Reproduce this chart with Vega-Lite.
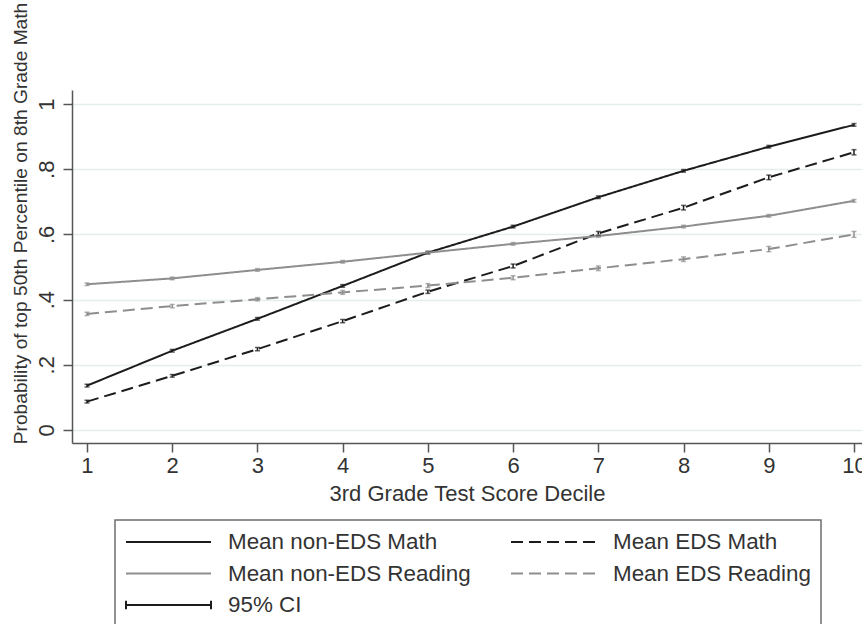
{
  "$schema": "https://vega.github.io/schema/vega-lite/v6.json",
  "width": 790,
  "height": 353,
  "autosize": {"type": "none"},
  "padding": {"left": 72, "top": 90, "right": 0, "bottom": 181},
  "background": "white",
  "config": {"view": {"stroke": null}, "font": "Liberation Sans"},
  "data": {"values": [
    {"d": 1, "s": "Mean non-EDS Math", "p": 0.136, "lo": 0.132, "hi": 0.140},
    {"d": 2, "s": "Mean non-EDS Math", "p": 0.243, "lo": 0.239, "hi": 0.247},
    {"d": 3, "s": "Mean non-EDS Math", "p": 0.341, "lo": 0.337, "hi": 0.345},
    {"d": 4, "s": "Mean non-EDS Math", "p": 0.442, "lo": 0.438, "hi": 0.446},
    {"d": 5, "s": "Mean non-EDS Math", "p": 0.544, "lo": 0.540, "hi": 0.548},
    {"d": 6, "s": "Mean non-EDS Math", "p": 0.624, "lo": 0.620, "hi": 0.628},
    {"d": 7, "s": "Mean non-EDS Math", "p": 0.714, "lo": 0.710, "hi": 0.718},
    {"d": 8, "s": "Mean non-EDS Math", "p": 0.795, "lo": 0.791, "hi": 0.799},
    {"d": 9, "s": "Mean non-EDS Math", "p": 0.869, "lo": 0.865, "hi": 0.873},
    {"d": 10, "s": "Mean non-EDS Math", "p": 0.936, "lo": 0.932, "hi": 0.940},
    {"d": 1, "s": "Mean EDS Math", "p": 0.087, "lo": 0.083, "hi": 0.091},
    {"d": 2, "s": "Mean EDS Math", "p": 0.166, "lo": 0.162, "hi": 0.170},
    {"d": 3, "s": "Mean EDS Math", "p": 0.248, "lo": 0.243, "hi": 0.253},
    {"d": 4, "s": "Mean EDS Math", "p": 0.334, "lo": 0.329, "hi": 0.339},
    {"d": 5, "s": "Mean EDS Math", "p": 0.424, "lo": 0.419, "hi": 0.429},
    {"d": 6, "s": "Mean EDS Math", "p": 0.503, "lo": 0.497, "hi": 0.509},
    {"d": 7, "s": "Mean EDS Math", "p": 0.603, "lo": 0.597, "hi": 0.609},
    {"d": 8, "s": "Mean EDS Math", "p": 0.682, "lo": 0.675, "hi": 0.689},
    {"d": 9, "s": "Mean EDS Math", "p": 0.775, "lo": 0.768, "hi": 0.782},
    {"d": 10, "s": "Mean EDS Math", "p": 0.852, "lo": 0.844, "hi": 0.860},
    {"d": 1, "s": "Mean non-EDS Reading", "p": 0.447, "lo": 0.443, "hi": 0.451},
    {"d": 2, "s": "Mean non-EDS Reading", "p": 0.465, "lo": 0.461, "hi": 0.469},
    {"d": 3, "s": "Mean non-EDS Reading", "p": 0.491, "lo": 0.487, "hi": 0.495},
    {"d": 4, "s": "Mean non-EDS Reading", "p": 0.516, "lo": 0.512, "hi": 0.520},
    {"d": 5, "s": "Mean non-EDS Reading", "p": 0.544, "lo": 0.540, "hi": 0.548},
    {"d": 6, "s": "Mean non-EDS Reading", "p": 0.571, "lo": 0.567, "hi": 0.575},
    {"d": 7, "s": "Mean non-EDS Reading", "p": 0.595, "lo": 0.591, "hi": 0.599},
    {"d": 8, "s": "Mean non-EDS Reading", "p": 0.624, "lo": 0.620, "hi": 0.628},
    {"d": 9, "s": "Mean non-EDS Reading", "p": 0.657, "lo": 0.653, "hi": 0.661},
    {"d": 10, "s": "Mean non-EDS Reading", "p": 0.703, "lo": 0.699, "hi": 0.707},
    {"d": 1, "s": "Mean EDS Reading", "p": 0.356, "lo": 0.351, "hi": 0.361},
    {"d": 2, "s": "Mean EDS Reading", "p": 0.380, "lo": 0.375, "hi": 0.385},
    {"d": 3, "s": "Mean EDS Reading", "p": 0.401, "lo": 0.396, "hi": 0.406},
    {"d": 4, "s": "Mean EDS Reading", "p": 0.422, "lo": 0.416, "hi": 0.428},
    {"d": 5, "s": "Mean EDS Reading", "p": 0.443, "lo": 0.437, "hi": 0.449},
    {"d": 6, "s": "Mean EDS Reading", "p": 0.467, "lo": 0.461, "hi": 0.473},
    {"d": 7, "s": "Mean EDS Reading", "p": 0.496, "lo": 0.489, "hi": 0.503},
    {"d": 8, "s": "Mean EDS Reading", "p": 0.524, "lo": 0.517, "hi": 0.531},
    {"d": 9, "s": "Mean EDS Reading", "p": 0.555, "lo": 0.547, "hi": 0.563},
    {"d": 10, "s": "Mean EDS Reading", "p": 0.600, "lo": 0.591, "hi": 0.609}
  ]},
  "encoding": {
    "x": {"field": "d", "type": "quantitative",
      "scale": {"domain": [0.824, 10.094], "nice": false, "zero": false},
      "axis": {"title": "3rd Grade Test Score Decile", "values": [1,2,3,4,5,6,7,8,9,10], "grid": false,
        "tickSize": 9, "tickWidth": 1.5, "tickColor": "#555555", "domainColor": "#555555", "domainWidth": 1.5,
        "labelFontSize": 22, "labelPadding": 3, "labelColor": "#333333", "labelFlush": false, "labelOverlap": false,
        "titleFontSize": 22, "titleFontWeight": "normal", "titleColor": "#333333",
        "titleY": 57, "titleBaseline": "alphabetic"}}
  },
  "layer": [
    {
      "mark": {"type": "line", "strokeWidth": 2, "strokeCap": "butt"},
      "encoding": {
        "y": {"field": "p", "type": "quantitative",
          "scale": {"domain": [-0.04, 1.043], "nice": false, "zero": false},
          "axis": {"title": "Probability of top 50th Percentile on 8th Grade Math",
            "values": [0, 0.2, 0.4, 0.6, 0.8, 1], "grid": true, "gridColor": "#e6eded", "gridWidth": 1.5,
            "tickSize": 9, "tickWidth": 1.5, "tickColor": "#555555", "domainColor": "#555555", "domainWidth": 1.5,
            "labelAngle": 270, "labelAlign": "center", "labelBaseline": "alphabetic", "labelPadding": 10,
            "labelFontSize": 22, "labelColor": "#333333",
            "labelExpr": "datum.value == 0 ? '0' : datum.value == 1 ? '1' : '.' + format(datum.value * 10, 'd')",
            "titleFontSize": 19.2, "titleFontWeight": "normal", "titleColor": "#333333",
            "titleAngle": 270, "titleX": -46, "titleY": 133, "titleAlign": "center", "titleBaseline": "alphabetic"}},
        "color": {"field": "s", "type": "nominal",
          "scale": {"domain": ["Mean non-EDS Math", "Mean non-EDS Reading", "95% CI", "Mean EDS Math", "Mean EDS Reading"],
            "range": ["#1c1c1c", "#8e8e8e", "#1c1c1c", "#1c1c1c", "#8e8e8e"]},
          "legend": {"title": null, "orient": "none", "legendX": 43, "legendY": 430, "columns": 2,
            "symbolType": "stroke", "symbolSize": 7225, "symbolStrokeWidth": 2, "clipHeight": 24,
            "rowPadding": 7.5, "columnPadding": 39, "labelOffset": 16, "labelLimit": 400,
            "labelFontSize": 22.4, "labelColor": "#333333", "padding": 10,
            "strokeColor": "#6e6e6e", "fillColor": "white",
            "encode": {
              "legend": {"update": {"strokeWidth": {"value": 1.5}}},
              "symbols": {"update": {"shape": {"signal": "datum.value === '95% CI' ? 'M-1,-0.1V0.1M-1,0H1M1,-0.1V0.1' : 'stroke'"}}}
            }}},
        "strokeDash": {"field": "s", "type": "nominal",
          "scale": {"domain": ["Mean non-EDS Math", "Mean non-EDS Reading", "95% CI", "Mean EDS Math", "Mean EDS Reading"],
            "range": [[1, 0], [1, 0], [1, 0], [12, 6], [12, 6]]},
          "legend": {"title": null, "orient": "none", "legendX": 43, "legendY": 430, "columns": 2,
            "symbolType": "stroke", "symbolSize": 7225, "symbolStrokeWidth": 2, "clipHeight": 24,
            "rowPadding": 7.5, "columnPadding": 39, "labelOffset": 16, "labelLimit": 400,
            "labelFontSize": 22.4, "labelColor": "#333333", "padding": 10,
            "strokeColor": "#6e6e6e", "fillColor": "white"}}
      }
    },
    {
      "mark": {"type": "rule", "strokeWidth": 1.5},
      "encoding": {
        "y": {"field": "lo", "type": "quantitative"},
        "y2": {"field": "hi"},
        "color": {"field": "s", "type": "nominal", "legend": null}
      }
    },
    {
      "mark": {"type": "tick", "orient": "horizontal", "size": 5, "thickness": 1.5},
      "encoding": {
        "y": {"field": "lo", "type": "quantitative"},
        "color": {"field": "s", "type": "nominal", "legend": null}
      }
    },
    {
      "mark": {"type": "tick", "orient": "horizontal", "size": 5, "thickness": 1.5},
      "encoding": {
        "y": {"field": "hi", "type": "quantitative"},
        "color": {"field": "s", "type": "nominal", "legend": null}
      }
    }
  ]
}
